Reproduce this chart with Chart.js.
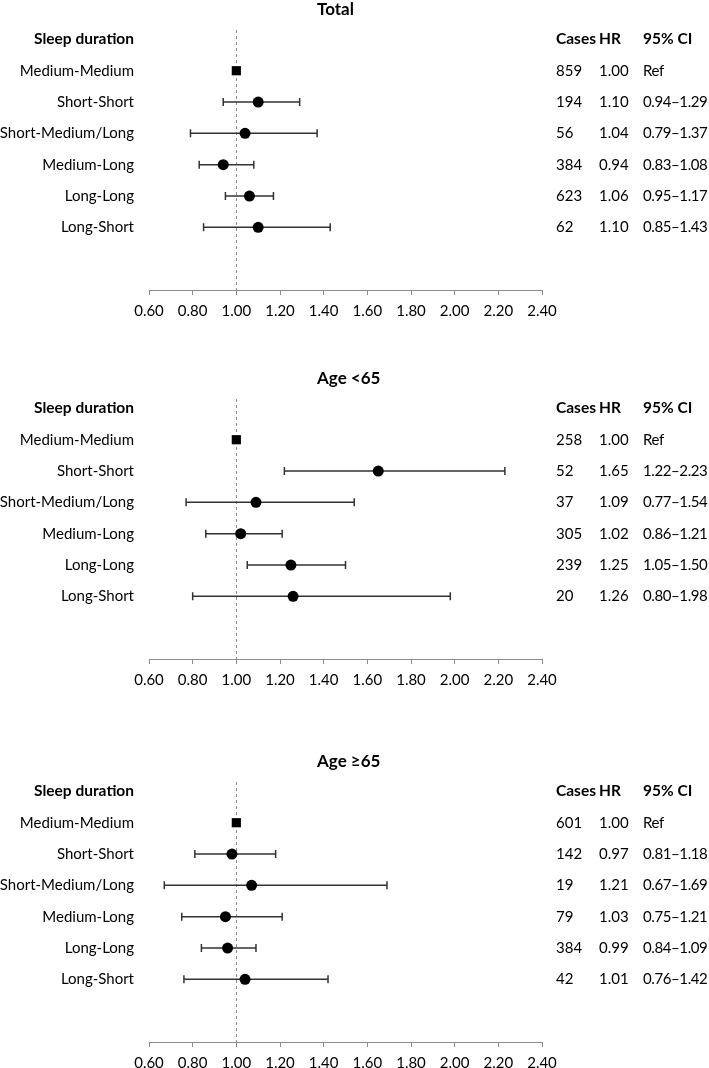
<!DOCTYPE html>
<html>
<head>
<meta charset="utf-8">
<script src="https://cdn.jsdelivr.net/npm/chart.js@4.4.0/dist/chart.umd.min.js"></script>
<style>
  body { margin: 0; background: #fff; }
  #wrap { position: relative; width: 709px; height: 1068px; }
  canvas { position: absolute; left: 0; }
</style>
</head>
<body>
<div id="wrap">
  <canvas id="c0" width="709" height="316" style="top:0px"></canvas>
  <canvas id="c1" width="709" height="316" style="top:369px"></canvas>
  <canvas id="c2" width="709" height="316" style="top:752px"></canvas>
</div>
<script>
const FONT = 'Lato, "Open Sans", sans-serif';

const rowLabels = ['Medium-Medium', 'Short-Short', 'Short-Medium/Long', 'Medium-Long', 'Long-Long', 'Long-Short'];
const panelTitles = ['Total', 'Age <65', 'Age \u226565'];
const xTicks = [0.6, 0.8, 1.0, 1.2, 1.4, 1.6, 1.8, 2.0, 2.2, 2.4];

// Total
const totalCases = [859, 194, 56, 384, 623, 62];
const totalHr = [1.00, 1.10, 1.04, 0.94, 1.06, 1.10];
const totalLo = [null, 0.94, 0.79, 0.83, 0.95, 0.85];
const totalHi = [null, 1.29, 1.37, 1.08, 1.17, 1.43];

// Age <65
const youngCases = [258, 52, 37, 305, 239, 20];
const youngHr = [1.00, 1.65, 1.09, 1.02, 1.25, 1.26];
const youngLo = [null, 1.22, 0.77, 0.86, 1.05, 0.80];
const youngHi = [null, 2.23, 1.54, 1.21, 1.50, 1.98];

// Age >=65 (printed HR differs from where the points sit in the figure)
const oldCases = [601, 142, 19, 79, 384, 42];
const oldHrText = ['1.00', '0.97', '1.21', '1.03', '0.99', '1.01'];
const oldPoint = [1.00, 0.98, 1.07, 0.95, 0.96, 1.04];
const oldLo = [null, 0.81, 0.67, 0.75, 0.84, 0.76];
const oldHi = [null, 1.18, 1.69, 1.21, 1.09, 1.42];

const panels = [
  { title: panelTitles[0], cases: totalCases, hrText: totalHr.map(v => v.toFixed(2)), point: totalHr, lo: totalLo, hi: totalHi },
  { title: panelTitles[1], cases: youngCases, hrText: youngHr.map(v => v.toFixed(2)), point: youngHr, lo: youngLo, hi: youngHi },
  { title: panelTitles[2], cases: oldCases, hrText: oldHrText, point: oldPoint, lo: oldLo, hi: oldHi }
];

function ciText(lo, hi) {
  return lo == null ? 'Ref' : lo.toFixed(2) + '\u2013' + hi.toFixed(2);
}

const forestPlugin = {
  id: 'forest',
  beforeDatasetsDraw(chart, args, opts) {
    const p = opts.panel;
    const { ctx, chartArea } = chart;
    const xs = chart.scales.x, ys = chart.scales.y;
    ctx.save();
    // reference line at HR = 1
    ctx.strokeStyle = '#8c8c8c';
    ctx.lineWidth = 1;
    ctx.setLineDash([3, 3]);
    const x1 = Math.round(xs.getPixelForValue(1)) + 0.5;
    ctx.beginPath();
    ctx.moveTo(x1, chartArea.top);
    ctx.lineTo(x1, chartArea.bottom);
    ctx.stroke();
    ctx.setLineDash([]);
    // confidence intervals
    ctx.strokeStyle = '#333';
    ctx.lineWidth = 1.5;
    p.lo.forEach((lo, i) => {
      if (lo == null) return;
      const y = ys.getPixelForValue(i);
      const a = xs.getPixelForValue(lo), b = xs.getPixelForValue(p.hi[i]);
      ctx.beginPath();
      ctx.moveTo(a, y); ctx.lineTo(b, y);
      ctx.moveTo(a, y - 4); ctx.lineTo(a, y + 4);
      ctx.moveTo(b, y - 4); ctx.lineTo(b, y + 4);
      ctx.stroke();
    });
    ctx.restore();
  },
  afterDraw(chart, args, opts) {
    const p = opts.panel;
    const { ctx } = chart;
    const ys = chart.scales.y;
    ctx.save();
    ctx.fillStyle = '#000';
    ctx.textBaseline = 'middle';
    ctx.font = 'bold 17px ' + FONT;
    ctx.textAlign = 'left';
    ctx.fillText(p.title, 317, 10);

    const hy = ys.getPixelForValue(-1);
    ctx.font = 'bold 15.5px ' + FONT;
    ctx.textAlign = 'right';
    ctx.fillText('Sleep duration', 134, hy);
    ctx.textAlign = 'left';
    ctx.fillText('Cases', 556, hy);
    ctx.fillText('HR', 599, hy);
    ctx.fillText('95% CI', 643, hy);

    ctx.font = '15px ' + FONT;
    rowLabels.forEach((lab, i) => {
      const y = ys.getPixelForValue(i);
      ctx.textAlign = 'right';
      ctx.fillText(lab, 134, y);
      ctx.textAlign = 'left';
      ctx.fillText(String(p.cases[i]), 556, y);
      ctx.fillText(p.hrText[i], 599, y);
      ctx.letterSpacing = '-0.4px';
      ctx.fillText(ciText(p.lo[i], p.hi[i]), 643, y);
      ctx.letterSpacing = '0px';
    });
    ctx.restore();
  }
};

panels.forEach((p, k) => {
  new Chart(document.getElementById('c' + k), {
    type: 'scatter',
    data: {
      datasets: [{
        data: p.point.map((v, i) => ({ x: v, y: i })),
        pointStyle: p.point.map((v, i) => i === 0 ? 'rect' : 'circle'),
        pointRadius: p.point.map((v, i) => i === 0 ? 6.5 : 5.5),
        backgroundColor: '#000',
        borderWidth: 0
      }]
    },
    options: {
      responsive: false,
      animation: false,
      events: [],
      layout: { padding: { left: 149, right: 167, top: 30, bottom: 0 } },
      plugins: {
        legend: { display: false },
        tooltip: { enabled: false },
        forest: { panel: p }
      },
      scales: {
        x: {
          type: 'linear',
          min: 0.6,
          max: 2.4,
          afterBuildTicks: s => { s.ticks = xTicks.map(v => ({ value: v })); },
          afterFit: s => { s.height = 26; },
          grid: { drawOnChartArea: false, drawTicks: true, tickLength: 5, color: '#8c8c8c' },
          border: { display: true, color: '#8c8c8c', width: 1 },
          ticks: {
            padding: 7,
            color: '#000',
            font: { family: FONT, size: 15 },
            callback: v => Number(v).toFixed(2),
            maxRotation: 0,
            autoSkip: false
          }
        },
        y: {
          type: 'linear',
          min: -1.3,
          max: 7,
          reverse: true,
          display: false
        }
      }
    },
    plugins: [forestPlugin]
  });
});
</script>
</body>
</html>
